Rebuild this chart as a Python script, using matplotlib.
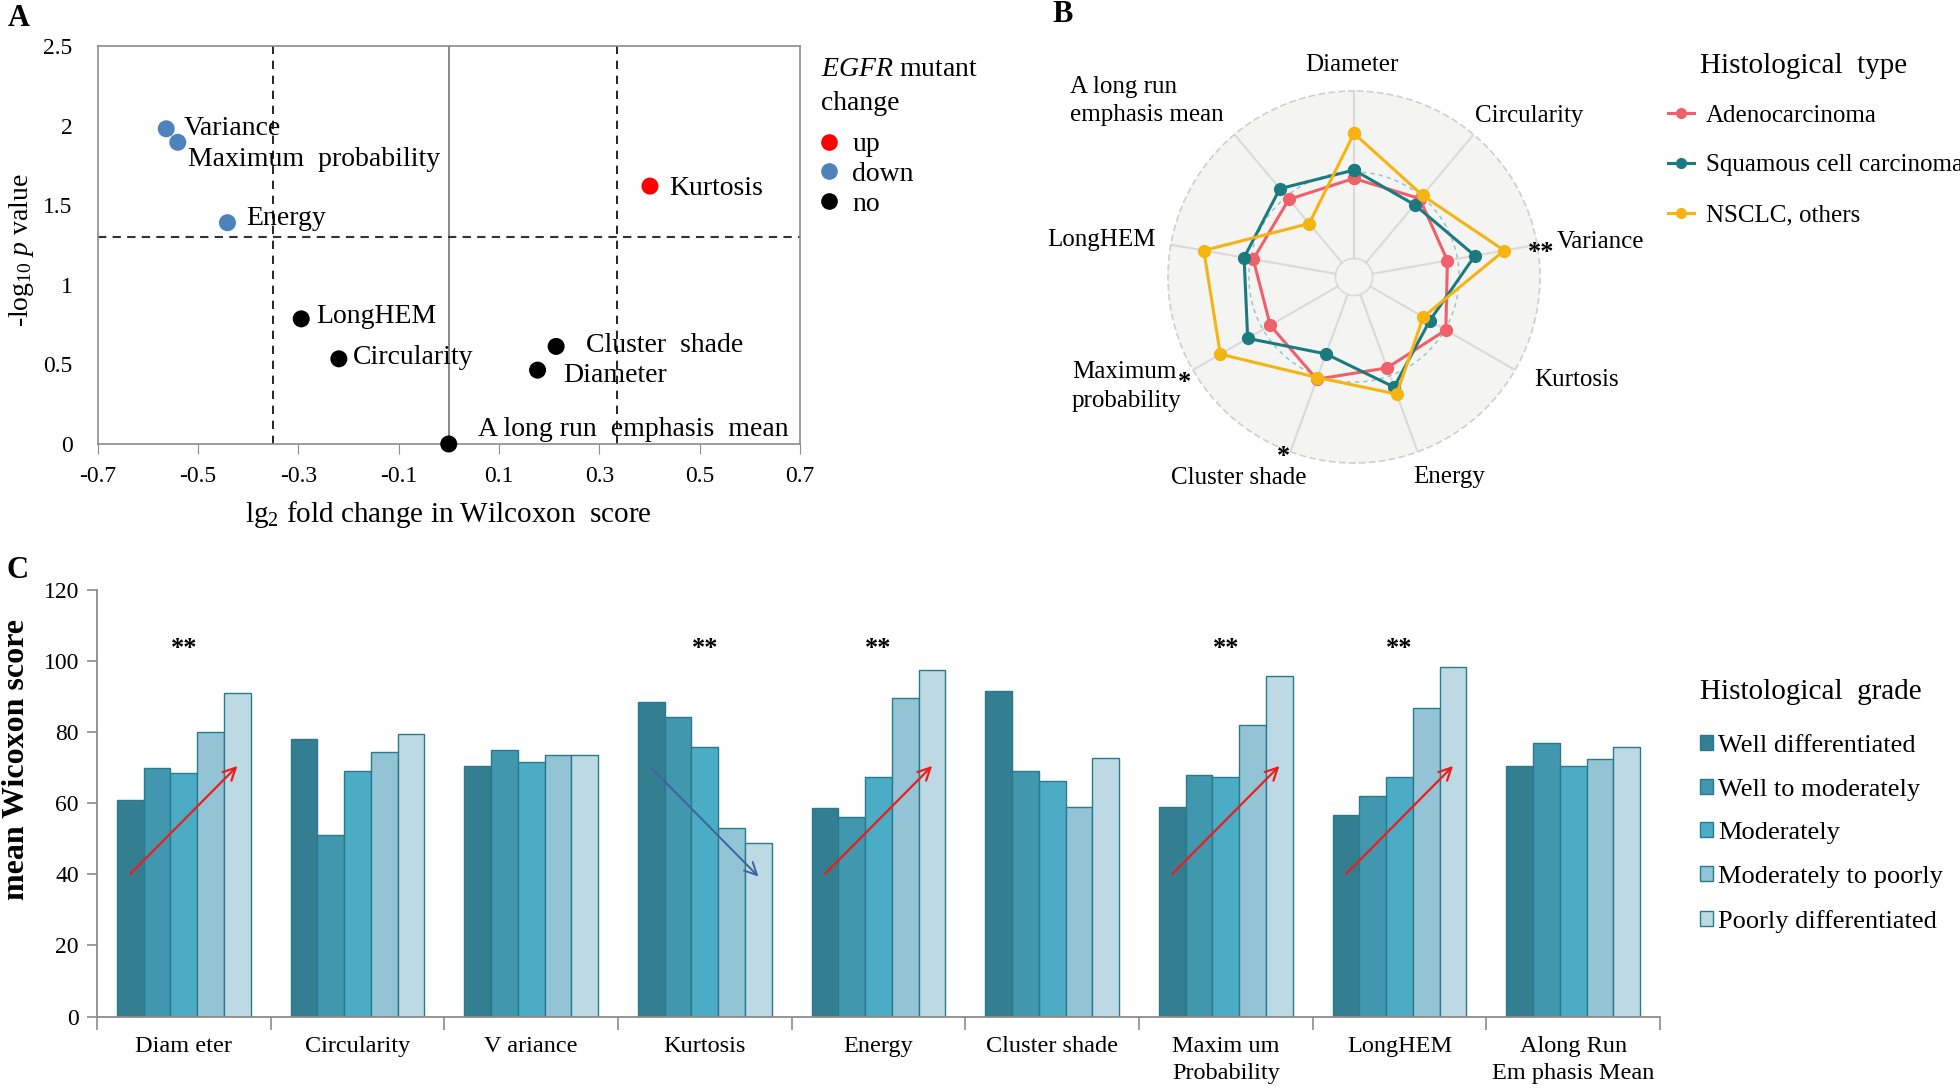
import numpy as np
import matplotlib
matplotlib.use("Agg")
import matplotlib.pyplot as plt
from matplotlib.lines import Line2D
from matplotlib.patches import Patch

SERIF = 'Liberation Serif'
plt.rcParams['font.family'] = [SERIF, 'DejaVu Serif']
plt.rcParams['mathtext.fontset'] = 'custom'
plt.rcParams['mathtext.rm'] = SERIF
plt.rcParams['mathtext.it'] = SERIF + ':italic'
plt.rcParams['mathtext.bf'] = SERIF + ':bold'

# ---------------- Panel A data ----------------
a_features = ["Variance", "Maximum  probability", "Energy", "Kurtosis", "LongHEM",
              "Circularity", "Cluster  shade", "Diameter", "A long run  emphasis  mean"]
a_log2fc = [-0.563, -0.540, -0.441, 0.401, -0.294, -0.219, 0.214, 0.177, 0.0]
a_neglogp = [1.98, 1.895, 1.39, 1.62, 0.786, 0.535, 0.613, 0.464, 0.0]
a_change = ["down", "down", "down", "up", "no", "no", "no", "no", "no"]
a_xticks = [-0.7, -0.5, -0.3, -0.1, 0.1, 0.3, 0.5, 0.7]
a_yticks = [0, 0.5, 1, 1.5, 2, 2.5]
a_fc_cut = [-0.35, 0.335]
a_p_cut = 1.3

# ---------------- Panel B data ----------------
b_axes = ["Diameter", "Circularity", "Variance", "Kurtosis", "Energy",
          "Cluster shade", "Maximum probability", "LongHEM", "A long run emphasis mean"]
b_adeno = [0.53, 0.55, 0.51, 0.57, 0.52, 0.585, 0.52, 0.55, 0.545]
b_squam = [0.575, 0.507, 0.66, 0.47, 0.63, 0.44, 0.66, 0.60, 0.62]
b_other = [0.772, 0.573, 0.82, 0.43, 0.67, 0.575, 0.83, 0.82, 0.375]
b_series = ["Adenocarcinoma", "Squamous cell carcinoma", "NSCLC, others"]

# ---------------- Panel C data ----------------
c_categories = ["Diam eter", "Circularity", "V ariance", "Kurtosis", "Energy",
                "Cluster shade", "Maxim um\nProbability", "LongHEM", "Along Run\nEm phasis Mean"]
c_grades = ["Well differentiated", "Well to moderately", "Moderately",
            "Moderately to poorly", "Poorly differentiated"]
c_well = [61, 78, 70.5, 88.5, 58.5, 91.6, 59, 56.7, 70.5]
c_well_mod = [70, 51, 74.8, 84.3, 56.2, 69, 67.9, 62, 76.8]
c_mod = [68.4, 69, 71.5, 75.9, 67.3, 66.3, 67.3, 67.3, 70.4]
c_mod_poor = [80, 74.3, 73.6, 53, 89.6, 58.8, 82, 86.8, 72.5]
c_poor = [91, 79.5, 73.6, 48.7, 97.4, 72.6, 95.8, 98.3, 75.8]
c_star_idx = [0, 3, 4, 6, 7]
c_up_idx = [0, 4, 6, 7]
c_down_idx = [3]

W, H = 1960, 1088
fig = plt.figure(figsize=(W / 100, H / 100), dpi=100)


def fx(px):
    return px / W


def fy(py):
    return 1 - py / H


def ftext(x, y, s, **kw):
    kw.setdefault('fontfamily', SERIF)
    return fig.text(fx(x), fy(y), s, **kw)


# ================= Panel A =================
axA = fig.add_axes([fx(97.5), fy(444), fx(800 - 97.5), (444 - 46) / H])
axA.set_xlim(-0.7, 0.7)
axA.set_ylim(0, 2.5)
for s in axA.spines.values():
    s.set_color('#8c8c8c')
    s.set_linewidth(1.2)
axA.axvline(0, color='#808080', lw=1.3, zorder=1)
for c in a_fc_cut:
    axA.axvline(c, color='black', lw=1.2, ls=(0, (5, 4)), zorder=1)
axA.axhline(a_p_cut, color='#333333', lw=1.5, ls=(0, (4, 3)), zorder=1)
cmap = {"up": "#FF0000", "down": "#4F81BD", "no": "#000000"}
axA.scatter(a_log2fc, a_neglogp, c=[cmap[k] for k in a_change], s=150, zorder=4,
            clip_on=False, linewidths=0)
a_off = [(17, 0), (10, -17), (19, 4), (19, -2), (15, 2), (14, 1), (30, 1), (26, -5), (29, 15)]
for name, xv, yv, off in zip(a_features, a_log2fc, a_neglogp, a_off):
    axA.annotate(name, (xv, yv), xytext=off, textcoords='offset pixels',
                 ha='left', va='center', fontsize=20, fontfamily=SERIF, zorder=5)
axA.set_xticks(a_xticks)
axA.set_xticklabels([f"{v:.1f}" for v in a_xticks], fontfamily=SERIF)
axA.set_yticks(a_yticks)
axA.set_yticklabels(["0", "0.5", "1", "1.5", "2", "2.5"], fontfamily=SERIF)
axA.tick_params(axis='x', length=7, color='#8c8c8c', labelsize=17, pad=9)
axA.tick_params(axis='y', length=0, labelsize=17, pad=18)
ftext(448, 514, "lg$_2$ fold change in Wilcoxon  score", ha='center', va='center', fontsize=21)
ftext(22, 250, "-log$_{10}$ $p$ value", rotation=90, ha='center', va='center', fontsize=20)

ftext(821, 69, "$\\mathit{EGFR}$ mutant", ha='left', va='center', fontsize=20)
ftext(821, 104, "change", ha='left', va='center', fontsize=20)
handlesA = [Line2D([0], [0], ls='none', marker='o', ms=12, mfc=cmap[k], mec='none')
            for k in ["up", "down", "no"]]
fig.legend(handlesA, ["up", "down", "no"], loc='upper left',
           bbox_to_anchor=(fx(819), fy(132)), frameon=False,
           prop={'family': SERIF, 'size': 20},
           handlelength=0.7, handletextpad=0.5, labelspacing=0.15, borderaxespad=0,
           borderpad=0)

# ================= Panel B =================
cx, cy, R = 1354, 277, 186
axB = fig.add_axes([fx(cx - R), fy(cy + R), 2 * R / W, 2 * R / H], projection='polar')
axB.set_theta_zero_location('N')
axB.set_theta_direction(-1)
axB.set_ylim(0, 1)
axB.set_facecolor('#F4F4F2')
axB.grid(False)
axB.set_xticks([])
axB.set_yticks([])
axB.spines['polar'].set_linestyle((0, (3, 3)))
axB.spines['polar'].set_color('#cfcfcf')
axB.spines['polar'].set_linewidth(1.2)
ang = np.arange(len(b_axes)) * 2 * np.pi / len(b_axes)
for a in ang:
    axB.plot([a, a], [0.1, 1], color='#dadada', lw=1.5, zorder=1)
tt = np.linspace(0, 2 * np.pi, 300)
axB.plot(tt, np.full_like(tt, 0.1), color='#dadada', lw=1.2, zorder=1)
axB.plot(tt, np.full_like(tt, 0.565), color='#8cc3c9', lw=1.0, ls=(0, (3, 3)), zorder=1)
b_colors = ["#F0606A", "#1B7A80", "#F5B412"]
angc = np.append(ang, ang[0])
for vals, col in zip([b_adeno, b_squam, b_other], b_colors):
    axB.plot(angc, np.append(vals, vals[0]), color=col, lw=2.2, marker='o', ms=8.5,
             zorder=3, clip_on=False)

bfs = 18
ftext(1352, 65, "Diameter", ha='center', va='center', fontsize=bfs)
ftext(1529, 116, "Circularity", ha='center', va='center', fontsize=bfs)
ftext(1557, 242, "Variance", ha='left', va='center', fontsize=bfs)
ftext(1541, 252, "**", ha='center', va='center', fontsize=19, fontweight='bold')
ftext(1577, 380, "Kurtosis", ha='center', va='center', fontsize=bfs)
ftext(1449, 477, "Energy", ha='center', va='center', fontsize=bfs)
ftext(1239, 478, "Cluster shade", ha='center', va='center', fontsize=bfs)
ftext(1284, 456, "*", ha='center', va='center', fontsize=19, fontweight='bold')
ftext(1072, 372, "Maximum", ha='left', va='center', fontsize=bfs)
ftext(1185, 382, "*", ha='center', va='center', fontsize=19, fontweight='bold')
ftext(1072, 401, "probability", ha='left', va='center', fontsize=bfs)
ftext(1101, 240, "LongHEM", ha='center', va='center', fontsize=bfs)
ftext(1070, 87, "A long run", ha='left', va='center', fontsize=bfs)
ftext(1070, 115, "emphasis mean", ha='left', va='center', fontsize=bfs)

ftext(1700, 66, "Histological  type", ha='left', va='center', fontsize=21)
handlesB = [Line2D([0], [0], color=c, lw=2.2, marker='o', ms=7) for c in b_colors]
fig.legend(handlesB, b_series, loc='upper left', bbox_to_anchor=(fx(1668), fy(104)),
           frameon=False, prop={'family': SERIF, 'size': 18},
           handlelength=1.05, handletextpad=0.45, labelspacing=1.1, borderaxespad=0,
           borderpad=0)

# ================= Panel C =================
axC = fig.add_axes([fx(97), fy(1016.6), fx(1660 - 97), (1016.6 - 589.6) / H])
c_colors = ["#347E91", "#4197AD", "#4BACC6", "#93C4D6", "#BCD9E4"]
c_vals = [c_well, c_well_mod, c_mod, c_mod_poor, c_poor]
xc = np.arange(len(c_categories))
bw = 0.154
for j, (vals, col) in enumerate(zip(c_vals, c_colors)):
    axC.bar(xc + (j - 2) * bw, vals, bw, color=col, edgecolor='#2A7A8E', linewidth=1.0,
            label=c_grades[j], zorder=2)
axC.set_xlim(-0.5, len(c_categories) - 0.5)
axC.set_ylim(0, 120)
axC.set_yticks(range(0, 121, 20))
axC.set_yticklabels([str(v) for v in range(0, 121, 20)], fontfamily=SERIF)
axC.set_xticks(xc)
axC.set_xticklabels(c_categories, fontsize=17.5, linespacing=1.35, fontfamily=SERIF)
axC.set_xticks(np.arange(-0.5, len(c_categories), 1.0), minor=True)
axC.tick_params(axis='x', which='major', length=0, pad=14)
axC.tick_params(axis='x', which='minor', length=9, color='#8c8c8c', width=1.2)
axC.tick_params(axis='y', length=7, color='#8c8c8c', labelsize=17, pad=6, width=1.2)
for s in ['top', 'right']:
    axC.spines[s].set_visible(False)
for s in ['left', 'bottom']:
    axC.spines[s].set_color('#8c8c8c')
    axC.spines[s].set_linewidth(1.3)
for i in c_star_idx:
    axC.text(i, 103.5, "**", ha='center', va='center', fontsize=19, fontweight='bold',
             fontfamily=SERIF)
for i in c_up_idx:
    axC.annotate('', xy=(i + 0.32, 71), xytext=(i - 0.32, 39.5),
                 arrowprops=dict(arrowstyle='->', color='#EE1C1C', lw=1.6, mutation_scale=22),
                 zorder=5)
for i in c_down_idx:
    axC.annotate('', xy=(i + 0.32, 38.8), xytext=(i - 0.32, 70.5),
                 arrowprops=dict(arrowstyle='->', color='#3F62A0', lw=1.4, mutation_scale=22),
                 zorder=5)
ftext(17, 759, "mean Wicoxon score", rotation=90, ha='center', va='center',
      fontsize=23, fontweight='bold')

ftext(1700, 692, "Histological  grade", ha='left', va='center', fontsize=21)
handlesC = [Patch(facecolor=c, edgecolor='#2A7A8E', lw=1.0) for c in c_colors]
fig.legend(handlesC, c_grades, loc='upper left', bbox_to_anchor=(fx(1700), fy(735)),
           frameon=False, prop={'family': SERIF, 'size': 19},
           handlelength=0.5, handleheight=0.5, handletextpad=0.2,
           labelspacing=0.82, borderaxespad=0, borderpad=0)

# panel letters
ftext(8, 4, "A", ha='left', va='top', fontsize=22, fontweight='bold')
ftext(1052, 0, "B", ha='left', va='top', fontsize=22, fontweight='bold')
ftext(6, 556, "C", ha='left', va='top', fontsize=22, fontweight='bold')

fig.savefig("out.png", dpi=100)
